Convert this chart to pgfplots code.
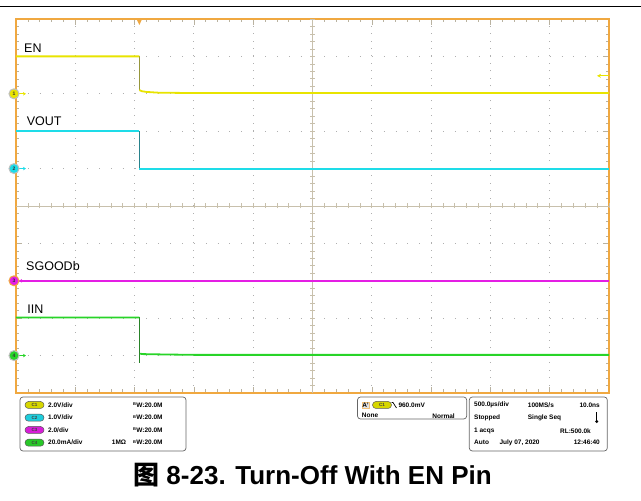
\documentclass[border=0pt]{standalone}
\usepackage{pgfplots}
\pgfplotsset{compat=1.18}
\usetikzlibrary{arrows.meta}
\usepackage{fontspec}
\setmainfont{Liberation Sans}
\newfontfamily\cjk{Noto Sans CJK SC}
\definecolor{frameor}{RGB}{240,168,64}
\definecolor{ticksg}{RGB}{185,178,160}
\definecolor{centerc}{RGB}{200,192,172}
\definecolor{gridc}{RGB}{175,175,175}
\definecolor{ency}{RGB}{232,228,0}
\definecolor{enedge}{RGB}{150,150,60}
\definecolor{voc}{RGB}{30,220,232}
\definecolor{voedge}{RGB}{40,130,140}
\definecolor{sgc}{RGB}{228,30,228}
\definecolor{igreen}{RGB}{40,212,40}
\definecolor{igedge}{RGB}{40,130,40}
\definecolor{pillY}{RGB}{215,215,0}
\definecolor{pillC}{RGB}{30,205,220}
\definecolor{pillM}{RGB}{215,30,215}
\definecolor{pillG}{RGB}{40,200,40}
\newcommand\bw{{\fontsize{4}{4}\selectfont\raisebox{1.8pt}{B}}\kern0.3pt W}
\tikzset{pill/.style={rounded corners=3.5pt, draw=black!65, line width=0.5pt, minimum width=19pt, minimum height=7pt, inner sep=0pt, font=\fontsize{4.5}{5}\bfseries\selectfont, text=black!75},
  ptxt/.style={inner sep=0pt, font=\fontsize{6.5}{7}\bfseries\selectfont},
  chm/.style={circle, minimum size=10pt, inner sep=0pt, line width=1pt, font=\fontsize{5}{5}\bfseries\selectfont, text=black!80}}
\begin{document}
\begin{tikzpicture}[x=1pt,y=1pt]
\useasboundingbox (0,0) rectangle (641,501);
\draw[line width=1pt] (0,494.3) -- (641,494.3);
\begin{axis}[at={(16pt,108pt)}, anchor=south west,
  scale only axis, width=593pt, height=374pt,
  xmin=0, xmax=10, ymin=0, ymax=10,
  xtick={0,1,...,10}, ytick={0,1,...,10},
  minor x tick num=4, minor y tick num=4,
  xticklabel=\empty, yticklabel=\empty,
  tick align=inside, tick pos=both,
  major tick length=6pt, minor tick length=3.5pt,
  tick style={color=ticksg, line width=0.6pt},
  axis line style={draw=frameor, line width=1.6pt},
  grid=major,
  major x grid style={color=gridc, line width=0.9pt, dash pattern=on 0.9pt off 6.58pt},
  major y grid style={color=gridc, line width=0.9pt, dash pattern=on 0.9pt off 10.96pt},
  unbounded coords=jump,
  clip=false, no markers]
\draw[centerc, line width=0.8pt] (axis cs:0,5) -- (axis cs:10,5);
\draw[centerc, line width=0.8pt] (axis cs:5,0) -- (axis cs:5,10);
\pgfplotsinvokeforeach{0.2,0.4,...,9.9}{
  \draw[centerc, line width=0.7pt] ([yshift=-2.5pt]axis cs:#1,5) -- ([yshift=2.5pt]axis cs:#1,5);
  \draw[centerc, line width=0.7pt] ([xshift=-2.5pt]axis cs:5,#1) -- ([xshift=2.5pt]axis cs:5,#1);
}
% vertical edges (thin, darker)
\addplot[color=enedge, line width=0.8pt] coordinates {(2.08,9.0)(2.08,8.1)};
\addplot[color=voedge, line width=0.8pt] coordinates {(2.08,7.01)(2.08,5.99)};
\addplot[color=igedge, line width=0.8pt] coordinates {(2.08,2.02)(2.08,0.79)};
% EN
\addplot[color=ency, line width=1.8pt] coordinates {(0,9.0)(2.08,9.0)(2.08,nan)(2.08,8.1)(2.12,8.07)(2.2,8.05)(2.4,8.03)(3,8.02)(10,8.02)};
% VOUT
\addplot[color=voc, line width=1.8pt] coordinates {(0,7.01)(2.08,7.01)(2.08,nan)(2.08,5.99)(10,5.99)};
% SGOODb
\addplot[color=sgc, line width=1.8pt] coordinates {(0,3.0)(10,3.0)};
% IIN
\addplot[color=igreen, line width=1.8pt] coordinates {(0,2.02)(2.08,2.02)(2.08,nan)(2.09,1.05)(2.15,1.04)(2.5,1.03)(3,1.02)(10,1.02)};
% labels
\node[anchor=base west, inner sep=0pt, font=\fontsize{12.5}{14}\selectfont] at (axis cs:0.135,9.10) {EN};
\node[anchor=base west, inner sep=0pt, font=\fontsize{12.5}{14}\selectfont] at (axis cs:0.18,7.14) {VOUT};
\node[anchor=base west, inner sep=0pt, font=\fontsize{12.5}{14}\selectfont] at (axis cs:0.169,3.27) {SGOODb};
\node[anchor=base west, inner sep=0pt, font=\fontsize{12.5}{14}\selectfont] at (axis cs:0.19,2.13) {IIN};
% channel markers
\draw[ency, line width=0.9pt, -{Stealth[length=3pt,width=3.5pt]}] ([xshift=2pt]axis cs:0,8) -- ([xshift=10pt]axis cs:0,8);
\node[chm, fill=ency, draw=black!25] at ([xshift=-2pt]axis cs:0,8) {1};
\draw[voc, line width=0.9pt, -{Stealth[length=3pt,width=3.5pt]}] ([xshift=2pt]axis cs:0,6) -- ([xshift=10pt]axis cs:0,6);
\node[chm, fill=voc, draw=black!25] at ([xshift=-2pt]axis cs:0,6) {2};
\draw[sgc, line width=0.9pt, -{Stealth[length=3pt,width=3.5pt]}] ([xshift=12pt]axis cs:0,3) -- ([xshift=3pt]axis cs:0,3);
\node[chm, fill=sgc, draw=frameor] at ([xshift=-2pt]axis cs:0,3) {3};
\draw[igreen, line width=0.9pt, -{Stealth[length=3pt,width=3.5pt]}] ([xshift=2pt]axis cs:0,1) -- ([xshift=10pt]axis cs:0,1);
\node[chm, fill=igreen, draw=black!25] at ([xshift=-2pt]axis cs:0,1) {4};
% trigger level and position
\draw[ency, line width=1pt, -{Stealth[length=4pt,width=4pt]}] (axis cs:10,8.48) -- ([xshift=-12pt]axis cs:10,8.48);
\fill[frameor] ([xshift=-2.8pt]axis cs:2.08,10) -- ([xshift=2.8pt]axis cs:2.08,10) -- ([yshift=-6pt]axis cs:2.08,10) -- cycle;
\end{axis}
% info panel: left box
\draw[black!60, line width=0.7pt, rounded corners=3pt] (20,104) rectangle (186,50);
\node[pill, fill=pillY] at (34.5,96) {C1};
\node[pill, fill=pillC] at (34.5,83.3) {C2};
\node[pill, fill=pillM] at (34.5,71) {C3};
\node[pill, fill=pillG] at (34.5,58.3) {C4};
\node[ptxt, anchor=west] at (48,96) {2.0V/div};
\node[ptxt, anchor=west] at (48,83.3) {1.0V/div};
\node[ptxt, anchor=west] at (48,71) {2.0/div};
\node[ptxt, anchor=west] at (48,58.3) {20.0mA/div};
\node[ptxt, anchor=west] at (133,96) {\bw:20.0M};
\node[ptxt, anchor=west] at (133,83.3) {\bw:20.0M};
\node[ptxt, anchor=west] at (133,71) {\bw:20.0M};
\node[ptxt, anchor=west] at (133,58.3) {\bw:20.0M};
\node[ptxt, anchor=west] at (111.7,58.3) {1MΩ};
% middle box
\draw[black!60, line width=0.7pt, rounded corners=3pt] (357.5,104) rectangle (466.7,82);
\node[ptxt, fill=black!12, draw=frameor!70, line width=0.4pt, inner sep=0.6pt] at (365.5,96) {A'};
\node[pill, fill=pillY] at (382,96) {C1};
\draw[line width=0.7pt] (391.5,98.5) -- (393,98.5) -- (396.5,93);
\node[ptxt, anchor=west] at (398.3,96) {960.0mV};
\node[ptxt, anchor=west] at (361.7,85.3) {None};
\node[ptxt, anchor=east] at (455,85.3) {Normal};
% right box
\draw[black!60, line width=0.7pt, rounded corners=3pt] (469.3,104) rectangle (607.3,50);
\node[ptxt, anchor=west] at (474,96) {500.0µs/div};
\node[ptxt, anchor=west] at (527.7,96) {100MS/s};
\node[ptxt, anchor=east] at (600,96) {10.0ns};
\node[ptxt, anchor=west] at (474,83.3) {Stopped};
\node[ptxt, anchor=west] at (527.7,83.3) {Single Seq};
\fill (596.7,79.5) circle (1.7pt);
\draw[line width=1.3pt] (596.7,80) -- (596.7,88.5);
\node[ptxt, anchor=west] at (474,70.3) {1 acqs};
\node[ptxt, anchor=east] at (591,70.3) {RL:500.0k};
\node[ptxt, anchor=west] at (474,58.3) {Auto};
\node[ptxt, anchor=west] at (499.3,58.3) {July 07, 2020};
\node[ptxt, anchor=east] at (600,58.3) {12:46:40};
% title
\node[anchor=base, inner sep=0pt, font=\fontsize{26}{28}\bfseries\selectfont] at (312.5,16) {{\cjk\bfseries 图} 8-23. Turn-Off With EN Pin};
\end{tikzpicture}
\end{document}
